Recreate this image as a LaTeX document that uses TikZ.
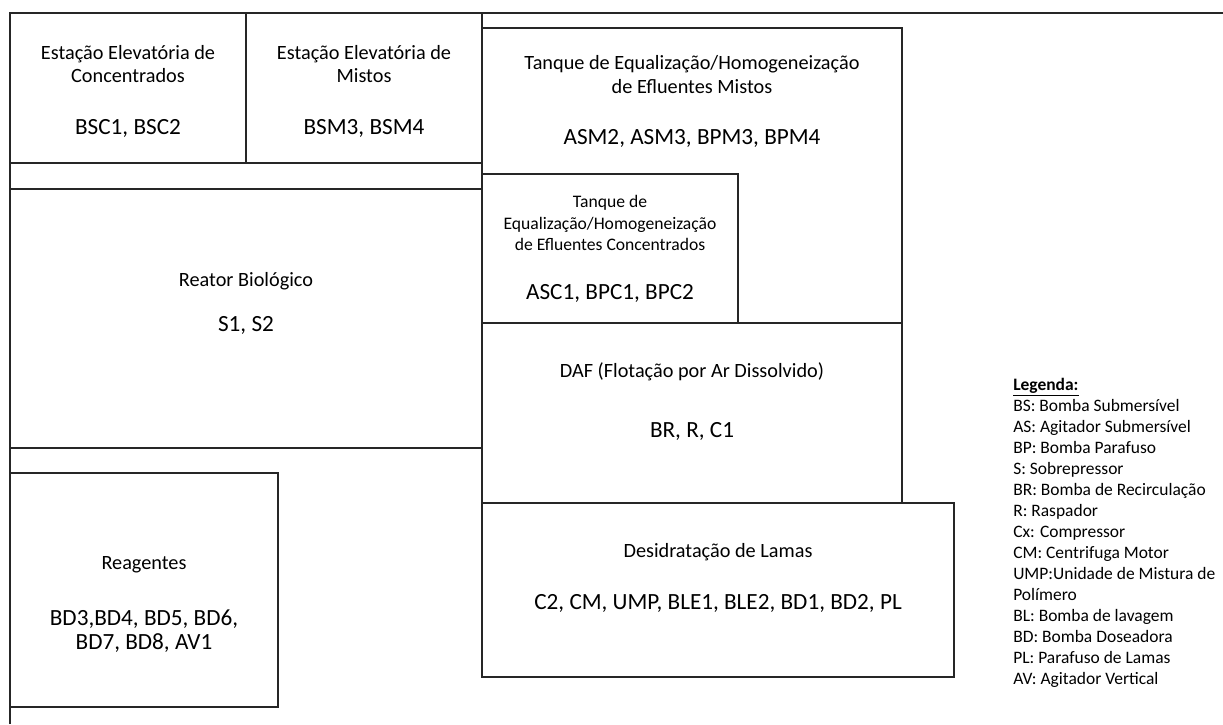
\documentclass[tikz,border=0pt]{standalone}
\usepackage{fontspec}
\setmainfont{Carlito}
\begin{document}
\begin{tikzpicture}[x=0.75pt,y=-0.75pt]
\tikzset{
  frame/.style={draw=black!85, line width=1.2pt},
  ttl/.style={align=center, font=\fontsize{15.2}{16.8}\selectfont, inner sep=0pt},
  cod/.style={align=center, font=\fontsize{17.4}{17.5}\selectfont, inner sep=0pt},
  sml/.style={align=center, font=\fontsize{13.2}{15.8}\selectfont, inner sep=0pt},
  leg/.style={anchor=base west, font=\fontsize{13.1}{15.8}\selectfont, inner sep=0pt}
}
\useasboundingbox (0,0) rectangle (1223,724);
% frame lines
\draw[frame] (10,724) -- (10,13) -- (1223,13);
\draw[frame] (482,13) -- (482,677);
\draw[frame] (246,13) -- (246,163);
\draw[frame] (10,163) -- (482,163);
\draw[frame] (10,189) -- (482,189);
\draw[frame] (10,448) -- (482,448);
% boxes
\draw[frame] (482,28) rectangle (902,323);
\draw[frame] (482,174) rectangle (738,323);
\draw[frame] (482,323) rectangle (902,503);
\draw[frame] (482,503) rectangle (954,677);
\draw[frame] (10,473) rectangle (278,707);
% texts
\node[ttl] (t1) at (128,64) {Estação Elevatória de\\Concentrados};
\node[cod] (c1) at (128,128) {BSC1, BSC2};
\node[ttl] (t2) at (364,64) {Estação Elevatória de\\Mistos};
\node[cod] (c2) at (364,128) {BSM3, BSM4};
\node[ttl, font=\fontsize{15.2}{18}\selectfont] (t3) at (692,75) {Tanque de Equalização/Homogeneização\\de Efluentes Mistos};
\node[cod] (c3) at (692,138) {ASM2, ASM3, BPM3, BPM4};
\node[sml] (t4) at (610,223) {Tanque de\\Equalização/Homogeneização\\de Efluentes Concentrados};
\node[cod] (c4) at (610,293) {ASC1, BPC1, BPC2};
\node[ttl] (t5) at (246,281) {Reator Biológico};
\node[cod] (c5) at (246,325) {S1, S2};
\node[ttl] (t6) at (692,372) {DAF (Flotação por Ar Dissolvido)};
\node[cod] (c6) at (692,431) {BR, R, C1};
\node[ttl] (t7) at (718,552) {Desidratação de Lamas};
\node[cod] (c7) at (718,603) {C2, CM, UMP, BLE1, BLE2, BD1, BD2, PL};
\node[ttl] (t8) at (144,565) {Reagentes};
\node[cod] (c8) at (144,631) {BD3,BD4, BD5, BD6,\\BD7, BD8, AV1};
% legend
\node[leg] (lg0) at (1013,390) {\underline{\textbf{Legenda:}}};
\foreach \t [count=\i] in {BS: Bomba Submersível, AS: Agitador Submersível, BP: Bomba Parafuso, S: Sobrepressor, BR: Bomba de Recirculação, R: Raspador, Cx: Compressor, CM: Centrifuga Motor, UMP:Unidade de Mistura de, Polímero, BL: Bomba de lavagem, BD: Bomba Doseadora, PL: Parafuso de Lamas, AV: Agitador Vertical}
  \node[leg] (lg\i) at (1013,390+21.07*\i) {\t};
\end{tikzpicture}
\end{document}
